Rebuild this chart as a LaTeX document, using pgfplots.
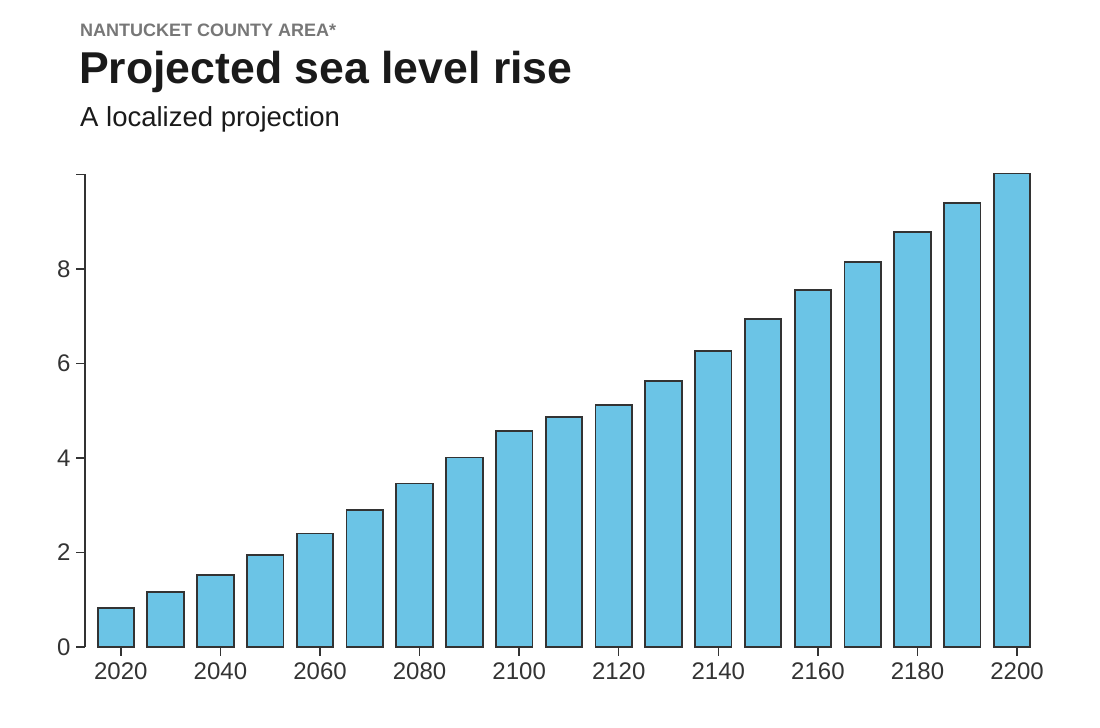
\documentclass[border=0pt]{standalone}
\usepackage{pgfplots}
\pgfplotsset{compat=1.18}
\usepackage{fontspec}
\setmainfont{Liberation Sans}

\definecolor{barblue}{HTML}{6BC4E6}
\definecolor{axisgray}{HTML}{333333}
\definecolor{subgray}{HTML}{777777}
\definecolor{titleblack}{HTML}{1A1A1A}

\pgfplotstableread{
year rise
2020 0.83
2030 1.16
2040 1.52
2050 1.94
2060 2.40
2070 2.90
2080 3.46
2090 4.01
2100 4.57
2110 4.86
2120 5.12
2130 5.63
2140 6.27
2150 6.94
2160 7.55
2170 8.15
2180 8.78
2190 9.40
2200 10.02
}\sealevel

\begin{document}
\begin{tikzpicture}[x=1bp,y=1bp]
\path (0,0) rectangle (1100,728);

\node[anchor=base west, inner sep=0, text=subgray]
  at (80,691) {\fontsize{18bp}{20bp}\selectfont\bfseries NANTUCKET COUNTY AREA*};
\node[anchor=base west, inner sep=0, text=titleblack]
  at (79,644) {\fontsize{44.6bp}{50bp}\selectfont\bfseries Projected sea level rise};
\node[anchor=base west, inner sep=0, text=titleblack]
  at (80,601) {\fontsize{27.5bp}{30bp}\selectfont A localized projection};

\begin{axis}[
    at={(85bp,81bp)}, anchor=south west,
    scale only axis,
    width=945bp, height=472.5bp,
    xmin=2012.8, xmax=2202.6,
    ymin=0, ymax=10,
    axis x line*=bottom,
    axis y line*=left,
    x axis line style={draw=none},
    y axis line style={draw=axisgray, line width=1.6bp},
    xtick={2020,2040,...,2200},
    ytick={0,2,4,6,8,10},
    yticklabels={0,2,4,6,8,},
    xticklabel style={/pgf/number format/set thousands separator={}},
    tick align=outside,
    major tick length=9bp,
    tick style={draw=axisgray, line width=1.4bp},
    ticklabel style={text=axisgray, font=\fontsize{24bp}{26bp}\selectfont},
    /pgf/number format/assume math mode=true,
    yticklabel style={xshift=-2bp},
    xticklabel style={yshift=-3bp},
    clip=false,
]
\addplot[ybar, bar width=36.5bp, bar shift=-5bp, fill=barblue,
         draw=axisgray, line width=1.8bp] table[x=year, y=rise] {\sealevel};
\end{axis}
\end{tikzpicture}
\end{document}
